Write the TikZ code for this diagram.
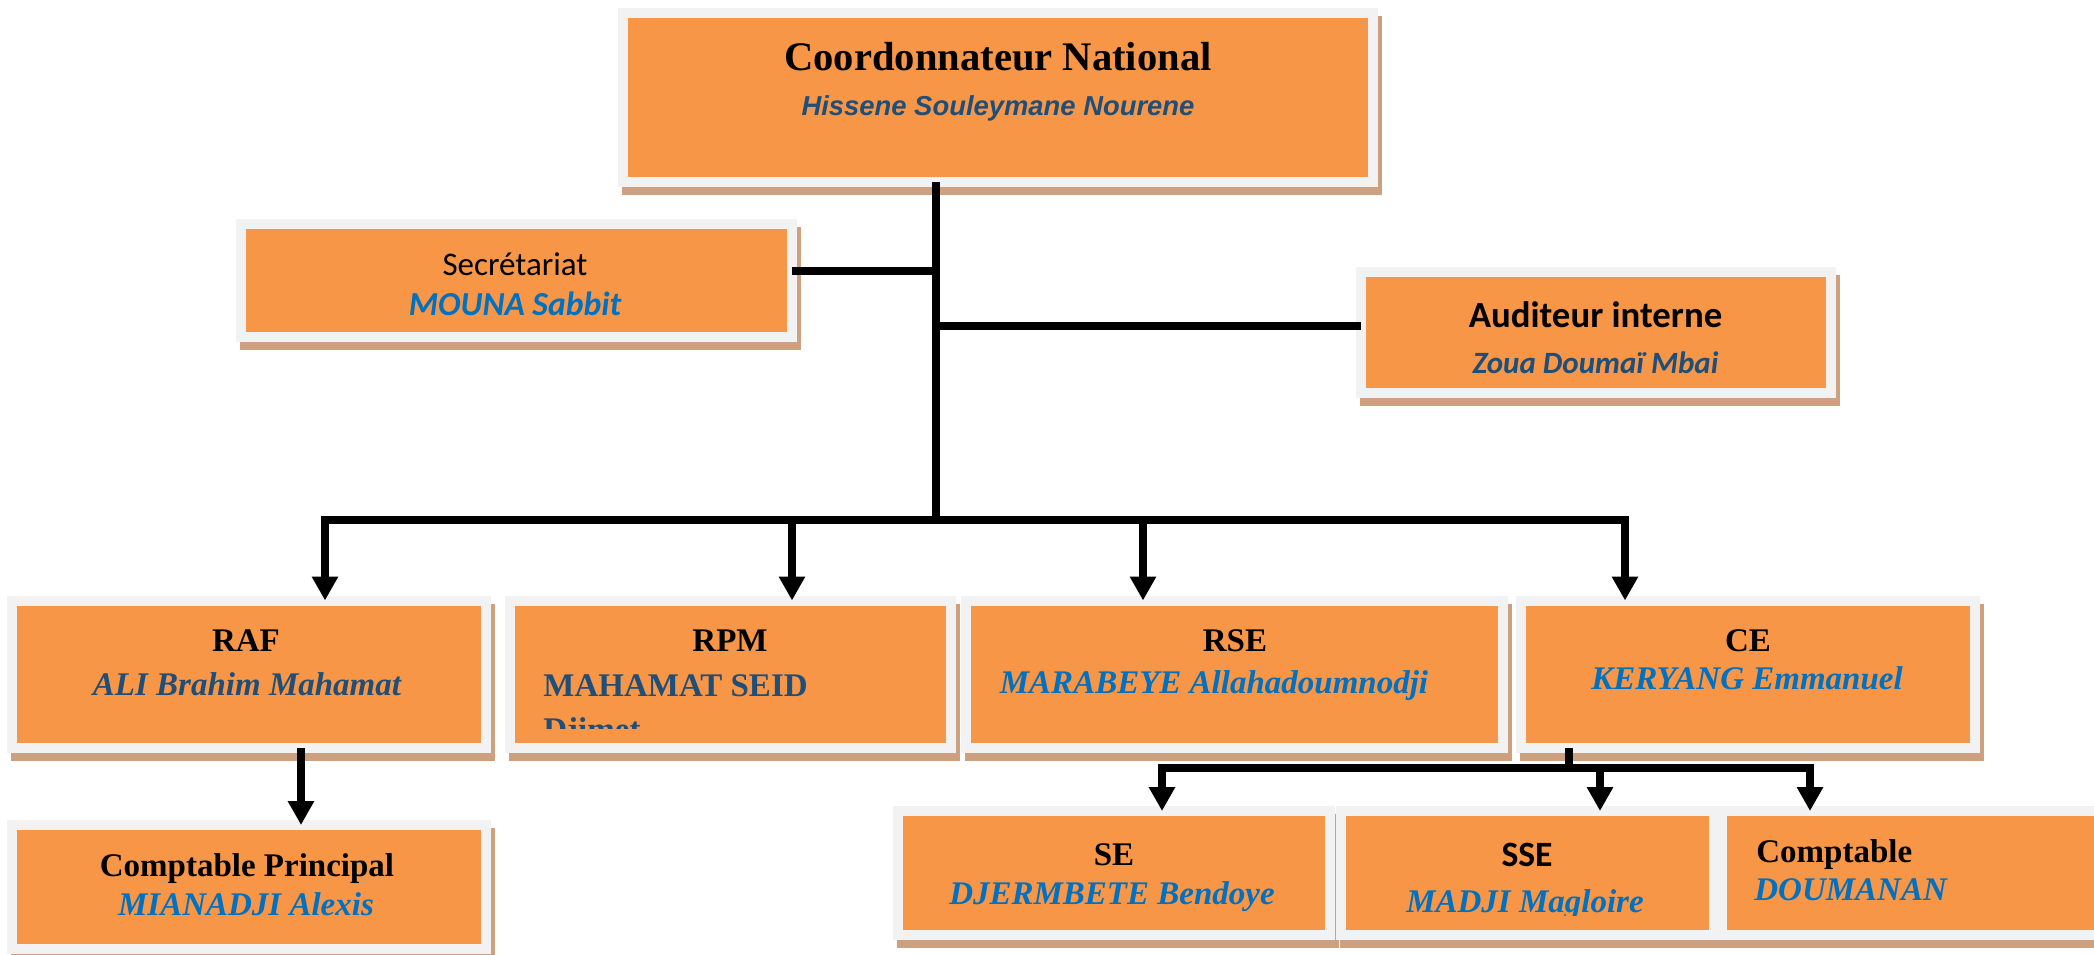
\documentclass[tikz,border=0pt]{standalone}
\usepackage{fontspec}
\setmainfont{Liberation Serif}
\newfontfamily\arialfont{Liberation Sans}
\newfontfamily\calibrifont{Carlito}
\usetikzlibrary{arrows.meta}
\definecolor{boxorange}{HTML}{F79646}
\definecolor{framegray}{HTML}{F2F2F2}
\definecolor{shadowtan}{RGB}{205,161,128}
\definecolor{darkname}{HTML}{1F4E79}
\definecolor{brightname}{HTML}{0070C0}
\tikzset{
	orgbox/.style={fill=boxorange, draw=framegray, line width=5pt, inner sep=0pt, outer sep=0pt,
		preaction={fill=shadowtan, draw=shadowtan, line width=5pt, transform canvas={shift={(2pt,-4pt)}}}},
	ttl/.style={anchor=base, inner sep=0pt, font=\fontsize{16.5}{18}\selectfont\bfseries},
	who/.style={anchor=base, inner sep=0pt, text=brightname, font=\fontsize{16.5}{18}\selectfont\bfseries\itshape},
	link/.style={line width=3.75pt},
	arr/.style={link, -{Triangle[width=12.5pt,length=12pt]}}
}
\begin{document}
\begin{tikzpicture}[x=0.5pt,y=-0.5pt]
	\useasboundingbox (0,0) rectangle (2094,954);
	\clip (0,0) rectangle (2094,954);

	\node[orgbox, minimum width=375.25pt, minimum height=84.75pt] (cn) at (997.75,97.25) {};
	\node[orgbox, minimum width=275.5pt, minimum height=56.75pt] (sec) at (516,280.25) {};
	\node[orgbox, minimum width=235.25pt, minimum height=60.75pt] (aud) at (1595.75,332.25) {};
	\node[orgbox, minimum width=237pt, minimum height=73.5pt] (raf) at (248.5,674) {};
	\node[orgbox, minimum width=220.5pt, minimum height=73.5pt] (rpm) at (730,674) {};
	\node[orgbox, minimum width=268.5pt, minimum height=73.5pt] (rse) at (1234,674) {};
	\node[orgbox, minimum width=227pt, minimum height=73.5pt] (ce) at (1748,674) {};
	\node[orgbox, minimum width=237pt, minimum height=62pt] (cp) at (248.5,887) {};
	\node[orgbox, minimum width=216pt, minimum height=61.75pt] (se) at (1114,872.75) {};
	\node[orgbox, minimum width=186.5pt, minimum height=61.75pt] (sse) at (1527,872.75) {};
	\node[orgbox, minimum width=194pt, minimum height=61.75pt] (cpt) at (1916,872.75) {};

	\node[ttl, font=\fontsize{20.3}{22}\selectfont\bfseries] (cn-t) at (998,70) {Coordonnateur National};
	\node[who, text=darkname, font=\fontsize{13.7}{15}\selectfont\arialfont\bfseries\itshape] (cn-n) at (998,115) {Hissene Souleymane Nourene};
	\node[ttl, font=\fontsize{16.5}{18}\selectfont\calibrifont] (sec-t) at (515,275) {Secrétariat};
	\node[who, font=\fontsize{16.8}{18}\selectfont\calibrifont\bfseries\itshape] (sec-n) at (515,315) {MOUNA Sabbit};
	\node[ttl, font=\fontsize{18.4}{20}\selectfont\calibrifont\bfseries] (aud-t) at (1595.5,327) {Auditeur interne};
	\node[who, text=darkname, font=\fontsize{15.5}{17}\selectfont\calibrifont\bfseries\itshape] (aud-n) at (1595.5,373) {Zoua Doumaï Mbai};

	\node[ttl] (raf-t) at (246,651) {RAF};
	\node[who, text=darkname] (raf-n) at (247,695) {ALI Brahim Mahamat};
	\node[ttl] (rpm-t) at (730,651) {RPM};
	\node[who, anchor=base west, text=darkname, font=\fontsize{16.5}{18}\selectfont\bfseries] (rpm-n) at (543,696) {MAHAMAT SEID};
	\begin{scope}
		\clip (515,606) rectangle (945,728);
		\node[who, anchor=base west, text=darkname, font=\fontsize{16.5}{18}\selectfont\bfseries] (rpm-m) at (543,740) {Djimet};
	\end{scope}
	\node[ttl] (rse-t) at (1235,651) {RSE};
	\node[who] (rse-n) at (1214,693) {MARABEYE Allahadoumnodji};
	\node[ttl] (ce-t) at (1748,651) {CE};
	\node[who] (ce-n) at (1747,689) {KERYANG Emmanuel};
	\node[ttl] (cp-t) at (247,876) {Comptable Principal};
	\node[who] (cp-n) at (246,915) {MIANADJI Alexis};
	\node[ttl] (se-t) at (1114,865) {SE};
	\node[who] (se-n) at (1112,904) {DJERMBETE Bendoye};
	\node[ttl, font=\fontsize{17.8}{19}\selectfont\calibrifont\bfseries] (sse-t) at (1527,866) {SSE};
	\begin{scope}
		\clip (1346,817) rectangle (1708,915);
		\node[who] (sse-n) at (1525,912) {MADJI Magloire};
	\end{scope}
	\node[ttl, anchor=base west] (cpt-t) at (1756,862) {Comptable};
	\node[who, anchor=base west] (cpt-n) at (1754,900) {DOUMANAN};

	\coordinate (hub) at (936,520);
	\coordinate (secj) at (936,271);
	\coordinate (audj) at (936,326);
	\coordinate (b1) at (325,520);
	\coordinate (b2) at (792,520);
	\coordinate (b3) at (1143,520);
	\coordinate (b4) at (1625,520);
	\coordinate (r1) at (301,780);
	\coordinate (c0) at (1569,768);
	\coordinate (c1) at (1162,768);
	\coordinate (c2) at (1600,768);
	\coordinate (c3) at (1810,768);

	\draw[link] (cn.south -| hub) -- (hub);
	\draw[link] (sec.east |- secj) -- (secj);
	\draw[link] (audj) -- (aud.west |- audj);
	\draw[link, {Triangle[width=12.5pt,length=12pt]}-{Triangle[width=12.5pt,length=12pt]}] (raf.north -| b1) -- (b1) -- (b4) -- (ce.north -| b4);
	\foreach \b/\n in {b2/rpm, b3/rse}
		\draw[arr] (\b) -- (\n.north -| \b);
	\draw[arr] (raf.south -| r1) -- (cp.north -| r1);
	\draw[link] (ce.south -| c0) -- (c0);
	\draw[link, {Triangle[width=12.5pt,length=12pt]}-{Triangle[width=12.5pt,length=12pt]}] (se.north -| c1) -- (c1) -- (c3) -- (cpt.north -| c3);
	\draw[arr] (c2) -- (sse.north -| c2);
\end{tikzpicture}
\end{document}
